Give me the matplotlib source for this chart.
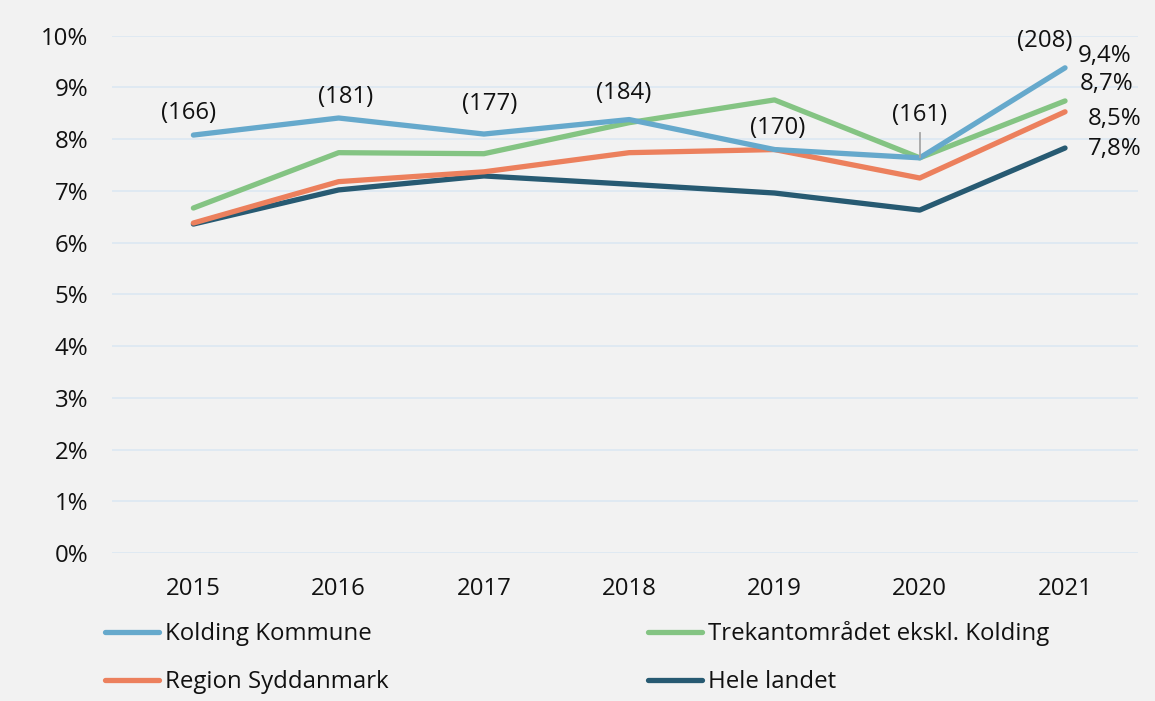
import matplotlib
matplotlib.use("Agg")
import matplotlib.pyplot as plt
from matplotlib.ticker import FuncFormatter

plt.rcParams['font.family'] = ['Open Sans', 'DejaVu Sans']

years = ['2015', '2016', '2017', '2018', '2019', '2020', '2021']
kolding = [8.08, 8.41, 8.10, 8.38, 7.80, 7.64, 9.38]
trekant = [6.67, 7.74, 7.72, 8.32, 8.76, 7.64, 8.74]
region = [6.38, 7.18, 7.37, 7.74, 7.80, 7.25, 8.53]
hele = [6.36, 7.02, 7.29, 7.13, 6.96, 6.63, 7.83]
counts = ['(166)', '(181)', '(177)', '(184)', '(170)', '(161)', '(208)']
end_labels = ['9,4%', '8,7%', '8,5%', '7,8%']

names = ['Kolding Kommune', 'Trekantområdet ekskl. Kolding', 'Region Syddanmark', 'Hele landet']
colors = ['#66a9cc', '#84c483', '#ec805d', '#275a72']
bg = '#f2f2f2'
FS = 17.3

fig = plt.figure(figsize=(11.55, 7.01), dpi=100, facecolor=bg)
ax = fig.add_axes([0.097, 0.211, 0.888, 0.738])
ax.set_facecolor(bg)

x = list(range(len(years)))
series = [kolding, trekant, region, hele]
zorders = [2.3, 2.2, 2.1, 2.0]
lines = []
for s, n, c, z in zip(series, names, colors, zorders):
    ln, = ax.plot(x, s, color=c, lw=3.8, solid_capstyle='round',
                  solid_joinstyle='round', label=n, zorder=z)
    lines.append(ln)

ax.set_xlim(-0.56, 6.5)
ax.set_ylim(0, 10)
ax.set_yticks(range(0, 11))
ax.yaxis.set_major_formatter(FuncFormatter(lambda v, p: f'{int(v)}%'))
ax.set_xticks(x)
ax.set_xticklabels(years)
ax.tick_params(length=0, labelsize=FS, colors='#111111')
ax.tick_params(axis='y', pad=17)
ax.tick_params(axis='x', pad=17)
for sp in ax.spines.values():
    sp.set_visible(False)
ax.grid(axis='y', color='#dde9f2', lw=1.3)
ax.set_axisbelow(True)

# count labels (data coordinates of label centres)
count_pos = [(-0.03, 8.51), (1.05, 8.82), (2.04, 8.68), (2.96, 8.90),
             (4.02, 8.22), (5.00, 8.47), (5.86, 9.90)]
for lab, (cx, cy) in zip(counts, count_pos):
    ax.text(cx, cy, lab, ha='center', va='center', fontsize=FS, color='#111111')
# leader line for (161)
ax.plot([x[5], x[5]], [kolding[5] + 0.02, 8.12], color='#a6a6a6', lw=1.3, zorder=3)

end_pos = [(6.09, 9.61), (6.10, 9.07), (6.155, 8.39), (6.155, 7.81)]
for lab, (ex, ey) in zip(end_labels, end_pos):
    ax.text(ex, ey, lab, ha='left', va='center', fontsize=FS, color='#111111')

# legend: one entry per slot
slots = [(105, 634), (648, 634), (105, 682), (648, 682)]
W, H = 1155, 701
for ln, (px, py) in zip(lines, slots):
    lg = fig.legend([ln], [ln.get_label()], loc='center left',
                    bbox_to_anchor=(px / W, 1 - py / H), frameon=False,
                    fontsize=FS, handlelength=2.25, handletextpad=0.23,
                    borderpad=0, borderaxespad=0)
    for t in lg.get_texts():
        t.set_color('#111111')

fig.savefig('out.png', dpi=100, facecolor=bg)
